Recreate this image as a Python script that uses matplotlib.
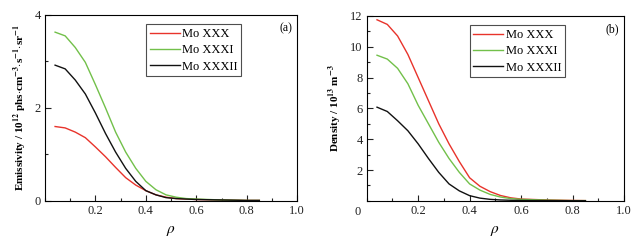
import numpy as np
import matplotlib
matplotlib.use("Agg")
import matplotlib.pyplot as plt
from matplotlib.ticker import MultipleLocator

plt.rcParams['font.family'] = ['Liberation Serif', 'DejaVu Serif']
plt.rcParams['mathtext.fontset'] = 'stix'

rho = [0.04, 0.08, 0.12, 0.16, 0.20, 0.24, 0.28, 0.32, 0.36, 0.40,
       0.44, 0.48, 0.52, 0.56, 0.60, 0.70, 0.80, 0.85]

# (a) emissivity, 10^12 phs/cm^3/s/sr
emis_xxx = [1.60, 1.57, 1.48, 1.36, 1.16, 0.95, 0.72, 0.50, 0.34, 0.22,
            0.13, 0.08, 0.05, 0.04, 0.03, 0.02, 0.01, 0.01]
emis_xxxi = [3.63, 3.55, 3.30, 2.98, 2.50, 2.00, 1.48, 1.05, 0.70, 0.42,
             0.24, 0.13, 0.08, 0.05, 0.04, 0.02, 0.01, 0.01]
emis_xxxii = [2.92, 2.84, 2.60, 2.30, 1.89, 1.45, 1.05, 0.70, 0.42, 0.22,
              0.13, 0.07, 0.05, 0.04, 0.03, 0.02, 0.01, 0.01]

# (b) density, 10^13 m^-3
dens_xxx = [11.75, 11.45, 10.70, 9.50, 8.00, 6.50, 5.00, 3.70, 2.55, 1.50,
            0.95, 0.60, 0.35, 0.20, 0.12, 0.06, 0.03, 0.02]
dens_xxxi = [9.45, 9.20, 8.60, 7.60, 6.20, 5.00, 3.80, 2.75, 1.85, 1.10,
             0.70, 0.42, 0.25, 0.15, 0.10, 0.05, 0.02, 0.02]
dens_xxxii = [6.08, 5.80, 5.20, 4.55, 3.70, 2.75, 1.85, 1.10, 0.65, 0.34,
              0.18, 0.10, 0.06, 0.04, 0.03, 0.02, 0.01, 0.01]

labels = ['Mo XXX', 'Mo XXXI', 'Mo XXXII']
colors = ['#e8332b', '#72c04a', '#111111']

fig = plt.figure(figsize=(6.4, 2.45), dpi=100)
ax1 = fig.add_axes([0.0703, 0.180, 0.394, 0.759])
ax2 = fig.add_axes([0.573, 0.180, 0.402, 0.755])


def style(ax, ymax, ymajor, tag, ylabel):
    ax.set_xlim(0, 1.0)
    ax.set_ylim(0, ymax)
    ax.xaxis.set_major_locator(MultipleLocator(0.2))
    ax.xaxis.set_minor_locator(MultipleLocator(0.1))
    ax.yaxis.set_major_locator(MultipleLocator(ymajor))
    ax.yaxis.set_minor_locator(MultipleLocator(ymajor / 2))
    ax.tick_params(which='both', direction='in', labelsize=9, pad=3,
                   width=0.8, colors='#222222')
    ax.tick_params(which='major', length=4)
    ax.tick_params(which='minor', length=2)
    ax.set_xticks([0.2, 0.4, 0.6, 0.8, 1.0])
    ax.set_xticklabels(['0.2', '0.4', '0.6', '0.8', '1.0'])
    for s in ax.spines.values():
        s.set_linewidth(0.8)
    ax.set_xlabel(r'$\rho$', fontsize=11, labelpad=5)
    ax.set_ylabel(ylabel, fontsize=8, fontweight='bold', labelpad=4)
    ax.text(0.955, 0.93, tag, transform=ax.transAxes, fontsize=8.5,
            ha='center', va='center')
    leg = ax.legend(loc='upper left', bbox_to_anchor=(0.40, 0.95),
                    fontsize=9, frameon=True, fancybox=False,
                    edgecolor='#222222', handlelength=2.4, handletextpad=0.2,
                    borderpad=0.3, labelspacing=0.35, borderaxespad=0)
    leg.get_frame().set_linewidth(0.8)


for vals, lab, c in zip([emis_xxx, emis_xxxi, emis_xxxii], labels, colors):
    ax1.plot(rho, vals, color=c, lw=1.0, label=lab)
for vals, lab, c in zip([dens_xxx, dens_xxxi, dens_xxxii], labels, colors):
    ax2.plot(rho, vals, color=c, lw=1.0, label=lab)

style(ax1, 4, 2, '(a)',
      r'Emissivity / 10$^{\mathbf{12}}$ phs$\cdot$cm$^{\mathbf{-3}}$$\cdot$s$^{\mathbf{-1}}$$\cdot$sr$^{\mathbf{-1}}$')
style(ax2, 12, 2, '(b)', r'Density / 10$^{\mathbf{13}}$ m$^{\mathbf{-3}}$')
ax2.yaxis.set_minor_locator(MultipleLocator(1))
ax2.set_yticks([2, 4, 6, 8, 10, 12])
ax2.text(-0.025, -0.03, '0', transform=ax2.transAxes, fontsize=9,
         ha='right', va='top', color='#222222')

fig.savefig('out.png', dpi=100)
